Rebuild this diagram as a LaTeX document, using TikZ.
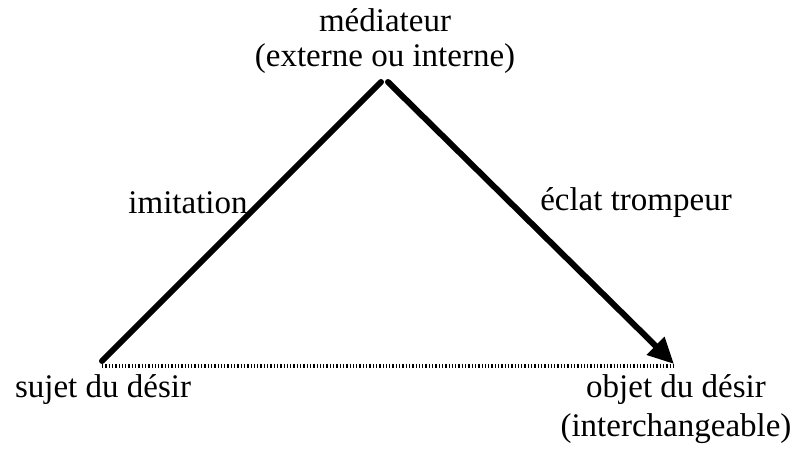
\documentclass[tikz,border=0pt]{standalone}
\usepackage{fontspec}
\setmainfont{Liberation Serif}
\usetikzlibrary{arrows.meta}
\begin{document}
\begin{tikzpicture}[x=1pt,y=-1pt,
  lbl/.style={font=\fontsize{33}{38}\selectfont, inner sep=0pt},
  side/.style={line width=6pt, line cap=round},
  base/.style={line width=4pt, dash pattern=on 1.3pt off 2pt}]
\useasboundingbox (0,0) rectangle (798,450);
\coordinate (L) at (102,361);
\coordinate (AL) at (381,82);
\coordinate (AR) at (388,82);
\coordinate (R) at (674,364);
\coordinate (BL) at (102,366);
\coordinate (BR) at (676,366);
\node[lbl] (med) at (385,20) {médiateur};
\node[lbl] (medb) at (385,59) {(externe ou interne)};
\node[lbl] (imit) at (188,203) {imitation};
\node[lbl] (ecl) at (636,203) {éclat trompeur};
\node[lbl] (suj) at (103,390) {sujet du désir};
\node[lbl] (obj) at (676,390) {objet du désir};
\node[lbl] (objb) at (676,429) {(interchangeable)};
\draw[base] (BL) -- (BR);
\draw[side] (L) -- (AL);
\draw[side, -{Triangle[length=26pt,width=24pt]}] (AR) -- (R);
\end{tikzpicture}
\end{document}
